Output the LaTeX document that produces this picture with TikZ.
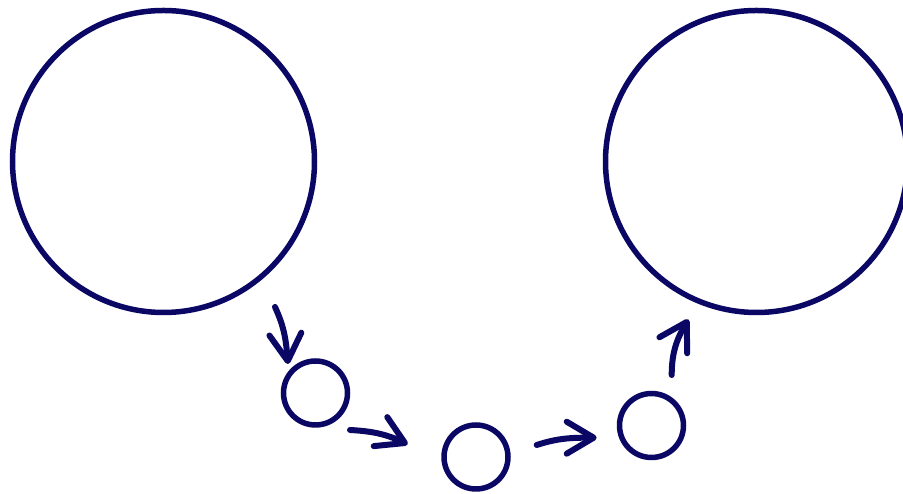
\documentclass[tikz,border=0pt]{standalone}
\usetikzlibrary{arrows.meta}
\definecolor{navy}{RGB}{10,8,100}
\begin{document}
\begin{tikzpicture}[x=1pt,y=1pt,
  ring/.style={circle,draw=navy,line width=5.5pt,inner sep=0pt},
  bigring/.style={ring,minimum size=302pt},
  smallring/.style={ring,minimum size=64pt},
  flow/.style={draw=navy,line width=6pt,line cap=round,
    -{Straight Barb[length=27pt,width=32pt,round]}}]
\useasboundingbox (0,0) rectangle (903,494);
\node[bigring] (L) at (163.5,332.5) {};
\node[bigring] (R) at (756.5,332.5) {};
\node[smallring] (s1) at (315.5,101) {};
\node[smallring] (s2) at (476,37) {};
\node[smallring] (s3) at (651.5,68.5) {};
\coordinate (a1s) at (275,187);
\coordinate (a1e) at (288,130);
\coordinate (a2s) at (350,64);
\coordinate (a2e) at (407.7,49.7);
\coordinate (a3s) at (536.7,49);
\coordinate (a3e) at (596.7,56.3);
\coordinate (a4s) at (671.7,119);
\coordinate (a4e) at (688.3,174.7);
\draw[flow] (a1s) to[out=-65,in=95] (a1e);
\draw[flow] (a2s) to[out=-3,in=155] (a2e);
\draw[flow] (a3s) to[out=18,in=180] (a3e);
\draw[flow] (a4s) to[out=90,in=-120] (a4e);
\end{tikzpicture}
\end{document}
